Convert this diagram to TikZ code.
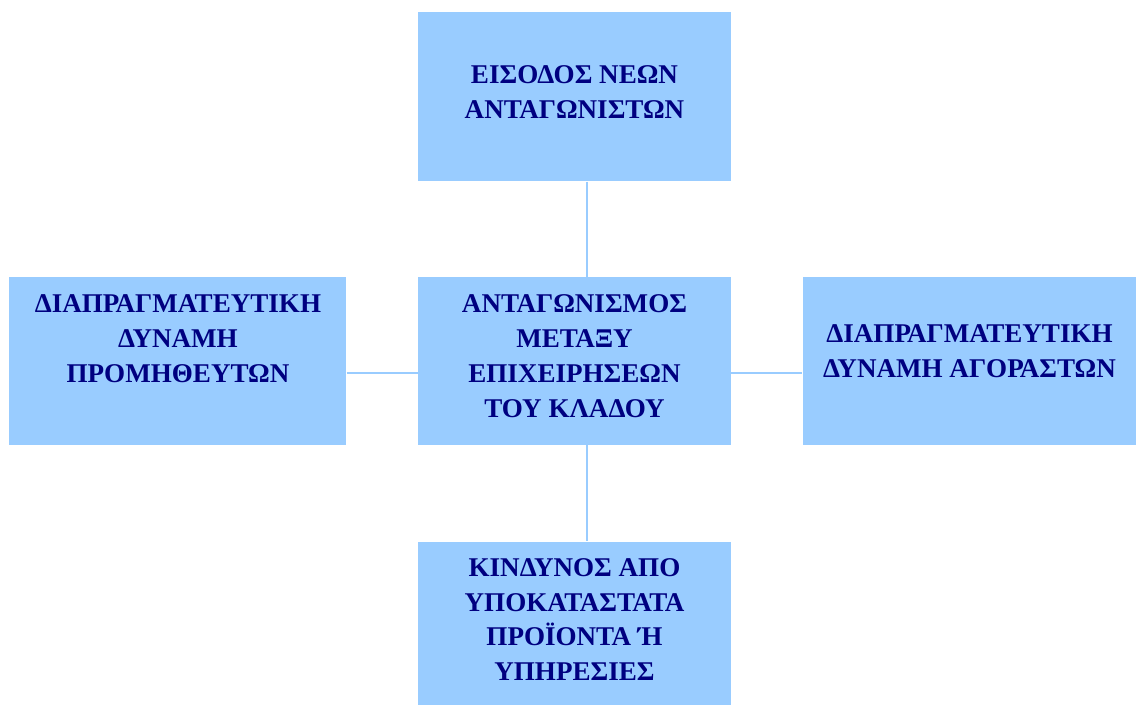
\documentclass[tikz,border=0pt]{standalone}
\usepackage{fontspec}
\setmainfont{Liberation Serif}
\usetikzlibrary{positioning}
\definecolor{boxblue}{HTML}{99CCFF}
\definecolor{textnavy}{HTML}{000080}

\begin{document}
\begin{tikzpicture}[x=0.75pt,y=0.75pt,
    force/.style={rectangle, fill=boxblue, text=textnavy, align=center,
                  font=\fontsize{20.3}{26.2}\selectfont\bfseries, text depth=8pt,
                  inner sep=0pt, minimum width=234.75pt, minimum height=126pt},
    link/.style={draw=boxblue, line width=1.5pt}]
        \useasboundingbox (0,0) rectangle (1136,-705);

        \node[force]                     (rivalry)    at (574.5,-361) {ΑΝΤΑΓΩΝΙΣΜΟΣ\\ΜΕΤΑΞΥ\\ΕΠΙΧΕΙΡΗΣΕΩΝ\\ΤΟΥ ΚΛΑΔΟΥ};
        \node[force, above=71.25pt of rivalry, minimum height=126.75pt] (entrants) {ΕΙΣΟΔΟΣ ΝΕΩΝ\\ΑΝΤΑΓΩΝΙΣΤΩΝ};
        \node[force, left=53.25pt of rivalry, minimum width=252.75pt]   (suppliers) {ΔΙΑΠΡΑΓΜΑΤΕΥΤΙΚΗ\\ΔΥΝΑΜΗ\\ΠΡΟΜΗΘΕΥΤΩΝ\\\mbox{}};
        \node[force, right=53.25pt of rivalry, minimum width=250.5pt, text depth=15pt] (buyers) {ΔΙΑΠΡΑΓΜΑΤΕΥΤΙΚΗ\\ΔΥΝΑΜΗ ΑΓΟΡΑΣΤΩΝ};
        \node[force, below=72pt of rivalry, minimum height=123pt, text depth=6pt] (substitutes) {ΚΙΝΔΥΝΟΣ ΑΠΟ\\ΥΠΟΚΑΤΑΣΤΑΤΑ\\ΠΡΟΪΟΝΤΑ Ή\\ΥΠΗΡΕΣΙΕΣ};

        \draw[link] ([xshift=9.4pt]entrants.south) -- ([xshift=9.4pt]rivalry.north);
        \draw[link] ([xshift=9.4pt]rivalry.south) -- ([xshift=9.4pt]substitutes.north);
        \draw[link] ([yshift=-9pt]suppliers.east) -- ([yshift=-9pt]rivalry.west);
        \draw[link] ([yshift=-9pt]rivalry.east) -- ([yshift=-9pt]buyers.west);
\end{tikzpicture}
\end{document}
